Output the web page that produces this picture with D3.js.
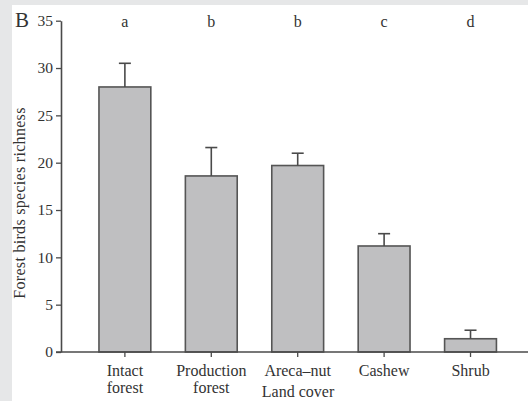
<!DOCTYPE html>
<html>
<head>
<meta charset="utf-8">
<script src="https://cdn.jsdelivr.net/npm/d3@7"></script>
<style>
  body { margin: 0; background: #e6e7e8; }
  svg { display: block; }
  text { font-family: "Liberation Serif", "DejaVu Serif", serif; fill: #333; }
</style>
</head>
<body>
<div id="chart"></div>
<script>
const width = 528;
const height = 401;

// Data.
const categories = ["Intact forest", "Production forest", "Areca\u2013nut", "Cashew", "Shrub"];
const richness = [28.0, 18.6, 19.7, 11.2, 1.4];
const errorTop = [30.5, 21.6, 21.0, 12.5, 2.3];
const groupLetters = ["a", "b", "b", "c", "d"];
const yTicks = [0, 5, 10, 15, 20, 25, 30, 35];

const ink = "#4a4a4a";

const svg = d3.select("#chart")
  .append("svg")
  .attr("width", width)
  .attr("height", height);

// white panel inside the grey frame
svg.append("rect")
  .attr("x", 12)
  .attr("y", 5)
  .attr("width", width - 12)
  .attr("height", height - 5)
  .attr("fill", "#fff");

const x = d3.scaleBand()
  .domain(categories)
  .range([64.4, 531])
  .paddingInner(0.4)
  .paddingOuter(0.4);

const y = d3.scaleLinear()
  .domain([0, 35])
  .range([352, 20.7]);

const rows = categories.map((c, i) => ({
  cat: c, value: richness[i], err: errorTop[i], letter: groupLetters[i]
}));

// bars
svg.append("g")
  .selectAll("rect")
  .data(rows)
  .join("rect")
  .attr("x", d => x(d.cat))
  .attr("y", d => y(d.value))
  .attr("width", x.bandwidth())
  .attr("height", d => y(0) - y(d.value))
  .attr("fill", "#bfbfc1")
  .attr("stroke", "#555")
  .attr("stroke-width", 1.6);

// error bars
const err = svg.append("g")
  .attr("stroke", ink)
  .attr("stroke-width", 1.6);

err.selectAll("line.stem")
  .data(rows)
  .join("line")
  .attr("class", "stem")
  .attr("x1", d => x(d.cat) + x.bandwidth() / 2)
  .attr("x2", d => x(d.cat) + x.bandwidth() / 2)
  .attr("y1", d => y(d.value))
  .attr("y2", d => y(d.err));

err.selectAll("line.cap")
  .data(rows)
  .join("line")
  .attr("class", "cap")
  .attr("x1", d => x(d.cat) + x.bandwidth() / 2 - 6)
  .attr("x2", d => x(d.cat) + x.bandwidth() / 2 + 6)
  .attr("y1", d => y(d.err))
  .attr("y2", d => y(d.err));

// significance letters
svg.append("g")
  .selectAll("text")
  .data(rows)
  .join("text")
  .attr("x", d => x(d.cat) + x.bandwidth() / 2)
  .attr("y", 27)
  .attr("text-anchor", "middle")
  .attr("font-size", 16)
  .text(d => d.letter);

// y axis
const yAxis = svg.append("g")
  .attr("transform", "translate(61,0)")
  .call(d3.axisLeft(y).tickValues(yTicks).tickSize(5).tickSizeOuter(0));
yAxis.select(".domain").attr("stroke", ink).attr("stroke-width", 1.6);
yAxis.selectAll(".tick line").attr("stroke", ink).attr("stroke-width", 1.3);
yAxis.selectAll(".tick text")
  .attr("x", -8)
  .attr("fill", "#333")
  .attr("font-size", 15.5)
  .attr("font-family", "Liberation Serif, serif");

// x axis
svg.append("line")
  .attr("x1", 56)
  .attr("x2", width)
  .attr("y1", y(0))
  .attr("y2", y(0))
  .attr("stroke", ink)
  .attr("stroke-width", 1.6);

const xAxis = svg.append("g")
  .attr("transform", `translate(0,${y(0)})`)
  .call(d3.axisBottom(x).tickSize(5).tickSizeOuter(0));
xAxis.select(".domain").remove();
xAxis.selectAll(".tick line").attr("stroke", ink).attr("stroke-width", 1.3);
xAxis.selectAll(".tick text").remove();

// two-line category labels, one text per line
xAxis.selectAll(".tick")
  .each(function(d) {
    d3.select(this).selectAll("text.lbl")
      .data(d.split(" "))
      .join("text")
      .attr("class", "lbl")
      .attr("text-anchor", "middle")
      .attr("fill", "#333")
      .attr("font-size", 16)
      .attr("font-family", "Liberation Serif, serif")
      .attr("x", 0)
      .attr("y", (t, i) => 24 + i * 17)
      .text(t => t);
  });

// axis titles
svg.append("text")
  .attr("x", 298)
  .attr("y", 397)
  .attr("text-anchor", "middle")
  .attr("font-size", 16)
  .text("Land cover");

svg.append("text")
  .attr("transform", "translate(25,203) rotate(-90)")
  .attr("text-anchor", "middle")
  .attr("font-size", 16)
  .attr("letter-spacing", 0.3)
  .text("Forest birds species richness");

// panel letter
svg.append("text")
  .attr("x", 15)
  .attr("y", 27)
  .attr("font-size", 21)
  .text("B");
</script>
</body>
</html>
